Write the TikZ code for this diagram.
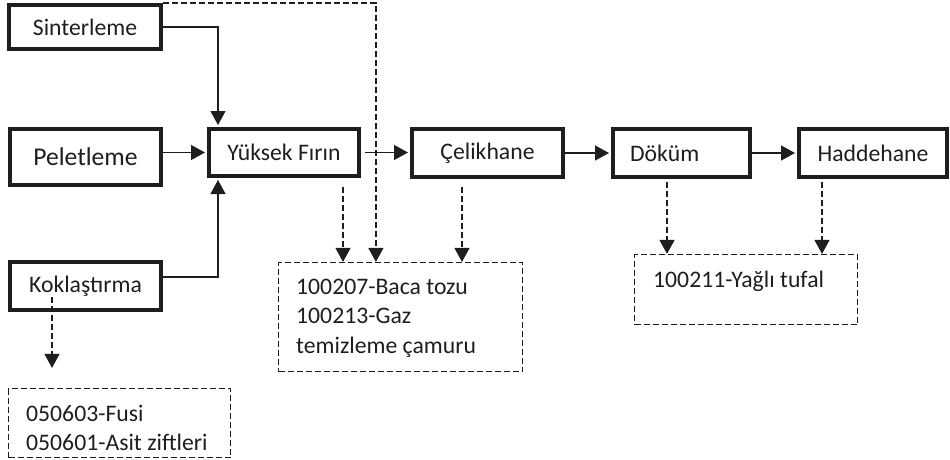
\documentclass[tikz,border=0pt]{standalone}
\usepackage{fontspec}
\setmainfont{Carlito}
\usetikzlibrary{arrows.meta,calc}
\definecolor{ink}{HTML}{1E1E1E}
\begin{document}
\begin{tikzpicture}[x=1pt,y=-1pt,
  proc/.style={draw=ink, line width=4pt, inner sep=0pt, text=ink,
    font=\fontsize{23.7}{29.5}\selectfont},
  waste/.style={draw=ink, line width=1.2pt, dash pattern=on 6pt off 3pt, inner sep=0pt},
  wtext/.style={inner sep=0pt, align=left, text=ink, font=\fontsize{23.7}{29.5}\selectfont},
  flow/.style={draw=ink, line width=1.3pt, -{Triangle[length=14pt,width=15pt]}},
  dflow/.style={flow, dash pattern=on 6pt off 3pt}]
\useasboundingbox (0,0) rectangle (950,459);

% process boxes
\node[proc, minimum width=152pt, minimum height=44pt] (sin) at (85,27) {Sinterleme};
\node[proc, minimum width=151pt, minimum height=56pt, font=\fontsize{25.6}{30}\selectfont] (pel) at (85.5,157) {Peletleme};
\node[proc, minimum width=151pt, minimum height=48pt] (kok) at (85.5,286) {Koklaştırma};
\node[proc, minimum width=150pt, minimum height=47pt] (yuk) at (284,152.5) {Yüksek Fırın};
\node[proc, minimum width=151pt, minimum height=48pt] (cel) at (487.5,153) {Çelikhane};
\node[proc, minimum height=48pt, text width=103pt, inner xsep=17pt, align=left] (dok) at (681.5,153) {Döküm};
\node[proc, minimum width=148pt, minimum height=48pt] (had) at (873,153) {Haddehane};

% waste boxes
\node[waste, minimum width=244pt, minimum height=109pt] (mid) at (400.5,317) {};
\node[waste, minimum width=223pt, minimum height=70pt] (rgt) at (746,289.5) {};
\node[waste, minimum width=222pt, minimum height=69pt] (fus) at (119.5,423) {};

\node[wtext, anchor=north west] (midtxt) at (296,278.5) {100207-Baca tozu\\100213-Gaz\\temizleme çamuru};
\node[wtext, anchor=base west] (rgttxt) at (653,287.5) {100211-Yağlı tufal};
\node[wtext, anchor=north west] (fustxt) at (26,404.5) {050603-Fusi\\050601-Asit ziftleri};

% helper coordinates
\coordinate (yin) at ([xshift=11pt]yuk.north west);
\coordinate (kout) at ([yshift=9pt]kok.east);
\coordinate (a1) at ([xshift=136pt]yuk.south west);
\coordinate (a2) at ([xshift=52pt]cel.south west);
\coordinate (a3) at ([xshift=56pt]dok.south west);
\coordinate (a4) at ([xshift=25pt]had.south west);
\coordinate (tx) at ([xshift=98pt]mid.north west);
\coordinate (k1) at ([xshift=44pt,yshift=-11pt]kok.west);

% solid flows
\draw[flow, shorten >=2pt] (sin.east) -| (yin |- yuk.north);
\draw[flow, shorten >=2pt] (kout) -| (yin |- yuk.south);
\draw[flow, shorten >=2pt] (pel.east |- yuk.west) -- (yuk.west);
\draw[flow, shorten <=4pt, shorten >=2pt] (yuk.east) -- (yuk.east -| cel.west);
\draw[flow, shorten >=2pt] (cel.east) -- (cel.east -| dok.west);
\draw[flow, shorten >=2pt] (dok.east) -- (dok.east -| had.west);

% dashed flows
\draw[dflow, shorten <=9pt] (a1) -- (a1 |- mid.north);
\draw[dflow, shorten <=8pt] (a2) -- (a2 |- mid.north);
\draw[dflow] (sin.north east) -| (tx |- mid.north);
\draw[dflow, shorten <=3pt] (a3) -- (a3 |- rgt.north);
\draw[dflow, shorten <=3pt] (a4) -- (a4 |- rgt.north);
\draw[dflow, shorten >=20pt] (k1) -- (k1 |- fus.north);
\end{tikzpicture}
\end{document}
